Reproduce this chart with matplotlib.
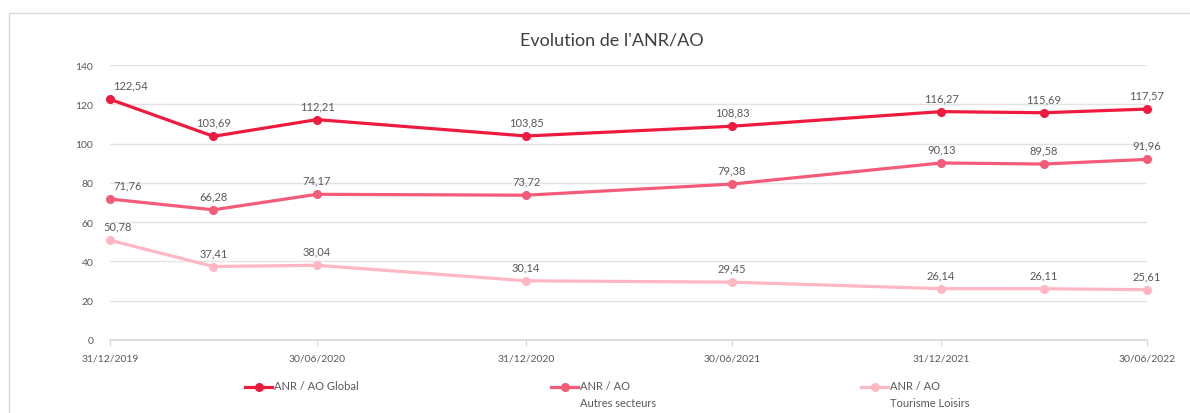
import matplotlib.pyplot as plt
import matplotlib.dates as mdates
from matplotlib.lines import Line2D
from matplotlib.patches import Rectangle
from datetime import datetime

plt.rcParams['font.family'] = ['Lato', 'DejaVu Sans']

W, H = 1190, 414

dates = ['31/12/2019', '31/03/2020', '30/06/2020', '31/12/2020',
         '30/06/2021', '31/12/2021', '31/03/2022', '30/06/2022']
tick_dates = ['31/12/2019', '30/06/2020', '31/12/2020',
              '30/06/2021', '31/12/2021', '30/06/2022']

global_vals = [122.54, 103.69, 112.21, 103.85, 108.83, 116.27, 115.69, 117.57]
autres_vals = [71.76, 66.28, 74.17, 73.72, 79.38, 90.13, 89.58, 91.96]
tourisme_vals = [50.78, 37.41, 38.04, 30.14, 29.45, 26.14, 26.11, 25.61]

labels = ['ANR / AO Global', 'ANR / AO\nAutres secteurs', 'ANR / AO\nTourisme Loisirs']
colors = ['#EE1B3F', '#F45B78', '#FFB7C3']
# shift of the first value label (pixels), as in the original
first_dx = [20, 18, 8]

x = [datetime.strptime(d, '%d/%m/%Y') for d in dates]
xt = [datetime.strptime(d, '%d/%m/%Y') for d in tick_dates]

fig = plt.figure(figsize=(W / 100, H / 100), dpi=100)
ax = fig.add_axes([110 / W, 1 - 341 / H, (1147 - 110) / W, (341 - 66) / H])

# outer frame
fig.add_artist(Rectangle((9 / W, -0.1), 1.2, 1 - 14 / H + 0.1, transform=fig.transFigure,
                         fill=False, edgecolor='#d9d9d9', linewidth=1))

series = [global_vals, autres_vals, tourisme_vals]
for vals, col, lab, dx in zip(series, colors, labels, first_dx):
    ax.plot(x, vals, color=col, linewidth=2.3, marker='o', markersize=5.5,
            solid_capstyle='round', label=lab, zorder=3, clip_on=False)
    for i, (xi, v) in enumerate(zip(x, vals)):
        ax.annotate(f'{v:.2f}'.replace('.', ','), (xi, v),
                    xytext=(dx if i == 0 else 0, 14), textcoords='offset pixels',
                    ha='center', va='center', fontsize=8, color='#595959')

ax.set_ylim(0, 140)
ax.set_yticks(range(0, 141, 20))
ax.set_xlim(x[0], x[-1])
ax.set_xticks(xt)
ax.xaxis.set_major_formatter(mdates.DateFormatter('%d/%m/%Y'))
ax.grid(axis='y', color='#e3e3e3', linewidth=1)
ax.set_axisbelow(True)
for s in ['top', 'right', 'left']:
    ax.spines[s].set_visible(False)
ax.spines['bottom'].set_color('#d9d9d9')
ax.spines['bottom'].set_linewidth(1.2)
ax.tick_params(axis='y', length=0, pad=12, labelsize=7.5, labelcolor='#595959')
ax.tick_params(axis='x', length=4, color='#d9d9d9', pad=6, labelsize=7.5, labelcolor='#595959')

fig.text(612 / W, 1 - 40 / H, "Evolution de l'ANR/AO", ha='center', va='center',
         fontsize=13, color='#404040')

# legend, drawn by hand to keep the handle on the first text line
leg_x = [245, 551, 861]
for lx, col, lab in zip(leg_x, colors, labels):
    y = 1 - 388 / H
    fig.add_artist(Line2D([lx / W, (lx + 27) / W], [y, y], transform=fig.transFigure,
                          color=col, linewidth=2.3))
    fig.add_artist(Line2D([(lx + 13.5) / W], [y], transform=fig.transFigure,
                          color=col, marker='o', markersize=5.5))
    fig.text((lx + 29) / W, y + 7 / H, lab, ha='left', va='top', fontsize=8,
             color='#595959', linespacing=1.65)

fig.savefig('out.png', dpi=100)
